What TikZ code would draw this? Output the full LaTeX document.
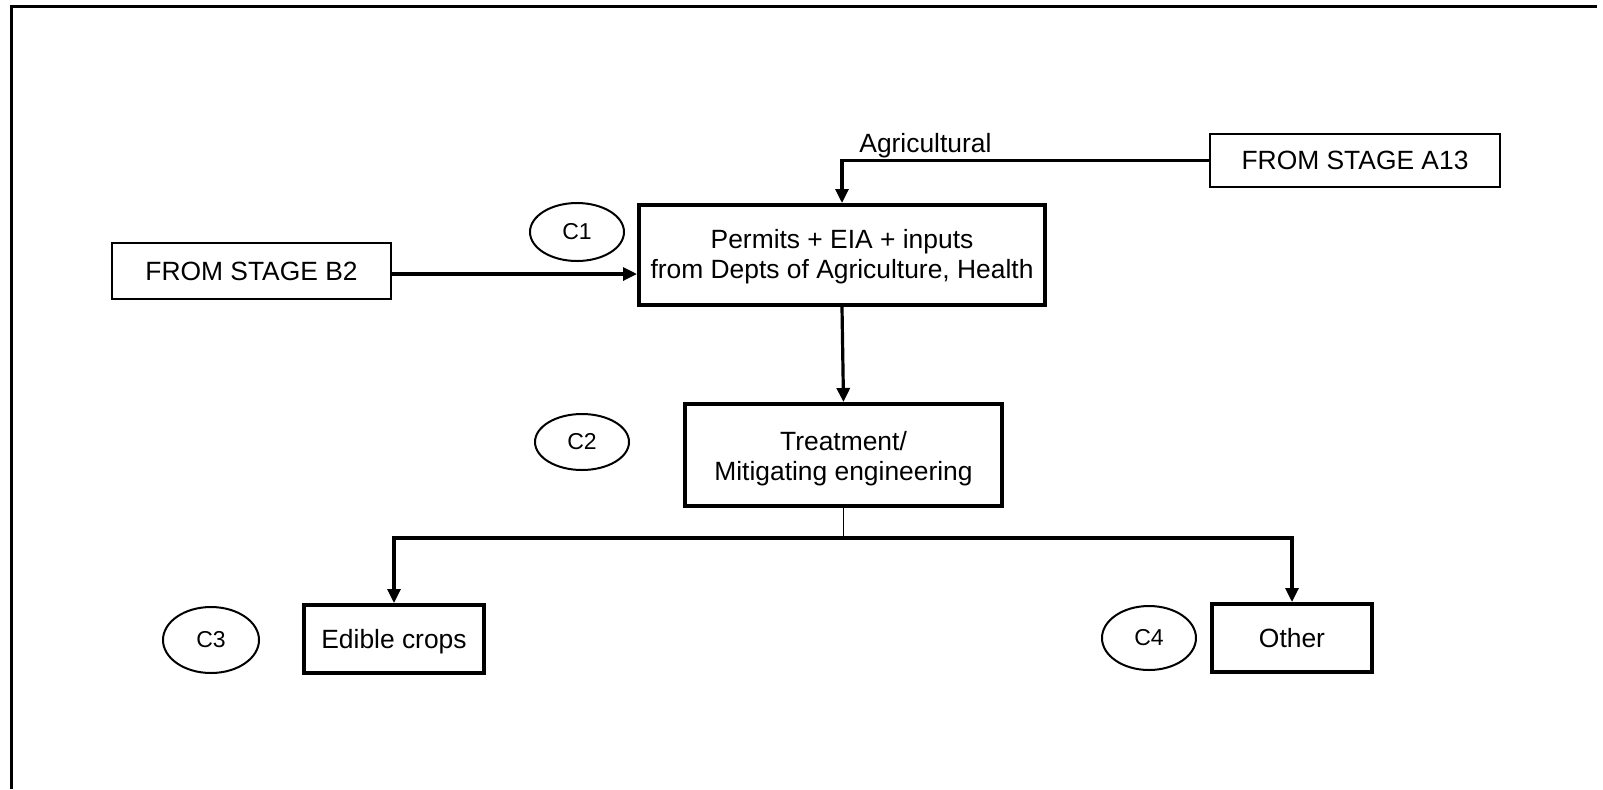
\documentclass[tikz,border=0pt]{standalone}
\usepackage{fontspec}
\setmainfont{Liberation Sans}
\usetikzlibrary{arrows.meta,shapes.geometric}

\tikzset{
  boxfont/.style={font=\fontsize{13.2}{15}\selectfont},
  stagebox/.style={draw, line width=0.75pt, rectangle, inner sep=0pt, boxfont},
  stepbox/.style={draw, line width=2pt, rectangle, inner sep=0pt, boxfont, align=center},
  boxtext/.style={boxfont, align=center, inner sep=0pt},
  tag/.style={draw, ellipse, line width=1pt, inner sep=0pt, font=\fontsize{11.5}{13}\selectfont},
  conn/.style={line width=1.6pt, -{Triangle[length=7pt,width=6.5pt]}},
  thinline/.style={line width=0.75pt},
}

\begin{document}
\begin{tikzpicture}[x=0.5pt, y=-0.5pt]
\useasboundingbox (0,0) rectangle (1603,789);

% page frame (top and left edges)
\draw[line width=1.5pt] (11,789) -- (11,6) -- (1597,6);

% boxes
\node[stagebox, minimum width=145pt, minimum height=26.5pt] (a13) at (1355,160.5) {FROM STAGE A13};
\node[stagebox, minimum width=139.5pt, minimum height=28pt] (b2) at (251.5,271) {FROM STAGE B2};
\node[stepbox, minimum width=203pt, minimum height=50pt] (permits) at (842,255) {};
\node[boxtext] (permitstext) at (842,257)
  {Permits + EIA + inputs\\from Depts of Agriculture, Health};
\node[stepbox, minimum width=158.5pt, minimum height=51pt] (treat) at (843.5,455) {};
\node[boxtext] (treattext) at (843.5,459) {Treatment/\\Mitigating engineering};
\node[stepbox, minimum width=90pt, minimum height=34pt] (edible) at (394,639) {};
\node[boxtext] (edibletext) at (394,642) {Edible crops};
\node[stepbox, minimum width=80pt, minimum height=34pt] (other) at (1292,638) {Other};

% stage tags
\node[tag, minimum width=47pt, minimum height=29pt] (c1) at (577,232) {C1};
\node[tag, minimum width=47pt, minimum height=28pt] (c2) at (582,442) {C2};
\node[tag, minimum width=48pt, minimum height=33pt] (c3) at (211,640) {C3};
\node[tag, minimum width=47pt, minimum height=32pt] (c4) at (1149,638) {C4};

% label on the incoming line
\node[boxfont, anchor=base west, inner sep=0pt] (agri) at (859,152) {Agricultural};

% connectors
\draw[conn] (a13.west) -- (a13.west -| permits.north) -- (permits.north);
\draw[conn] ([yshift=-1.5pt]b2.east) -- ([yshift=-1.5pt]b2.east -| permits.west);
\draw[conn] (permits.south) -- (treat.north);
\coordinate (branch) at (843.5,538);
\draw[thinline] (treat.south) -- (branch);
\draw[conn] (branch) -| (edible.north);
\draw[conn] (branch) -| (other.north);
\end{tikzpicture}
\end{document}
